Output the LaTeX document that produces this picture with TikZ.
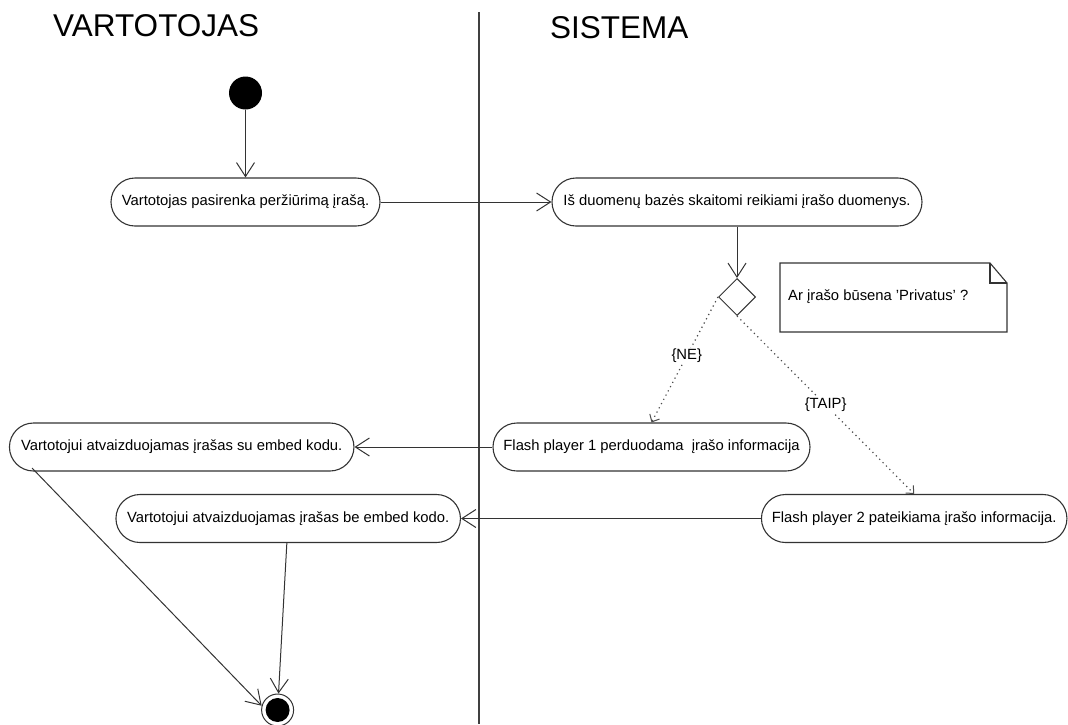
\documentclass[tikz,border=0pt]{standalone}
\usepackage{fontspec}
\setmainfont{Liberation Sans}
\usepackage{tikz}
\usetikzlibrary{arrows.meta, positioning, shapes.geometric, calc}

\tikzset{
  act/.style={draw=black!80, line width=1.1pt, rectangle, rounded corners=24pt,
    minimum height=48pt, inner sep=0pt, font=\fontsize{14.8}{17}\selectfont},
  flow/.style={draw=black!80, line width=1pt, -{Straight Barb[length=14pt,width=18pt]}},
  guard/.style={draw=black!70, line width=1.2pt, dash pattern=on 1.2pt off 3.6pt,
    -{Straight Barb[length=6pt,width=11pt,line width=1pt]}},
  lane/.style={font=\fontsize{31.5}{36}\selectfont, anchor=west, inner sep=0pt},
  lbl/.style={font=\fontsize{14.8}{17}\selectfont, inner sep=0pt}
}

\begin{document}
\begin{tikzpicture}[x=1pt, y=-1pt]
\useasboundingbox (0,0) rectangle (1068,724);

% ---- Swimlanes ----
\node[lane] (vart) at (53,26) {VARTOTOJAS};
\node[lane] (sist) at (550,28) {SISTEMA};
\draw[black!75, line width=1.1pt] (479,12) -- (479,724);

% ---- Start / end ----
\node[circle, fill=black, minimum size=33pt, inner sep=0pt] (start) at (245.5,93) {};
\node[circle, draw=black!80, line width=1pt, fill=white, minimum size=32pt, inner sep=0pt] (fin) at (277.6,710) {};
\fill (fin) circle (12pt);

% ---- Activities ----
\node[act, minimum width=269pt] (pick) at (245.5,202) {Vartotojas pasirenka peržiūrimą įrašą.};
\node[act, minimum width=370pt] (read) at (737,202) {Iš duomenų bazės skaitomi reikiami įrašo duomenys.};
\node[diamond, draw=black!80, line width=1pt, minimum size=37pt, inner sep=0pt] (dec) at (737,297) {};
\node[act, minimum width=317pt] (fpone) at (651.5,447) {Flash player 1 perduodama \ įrašo informacija};
\node[act, minimum width=305.5pt] (fptwo) at (914.2,518.5) {Flash player 2 pateikiama įrašo informacija.};
\node[act, minimum width=344.5pt] (showsu) at (181.7,447) {Vartotojui atvaizduojamas įrašas su embed kodu.};
\node[act, minimum width=344.5pt] (showbe) at (288.2,518.5) {Vartotojui atvaizduojamas įrašas be embed kodo.};

% ---- Note ----
\draw[black!80, line width=1.1pt] (780,263) -- (990,263) -- (1007,283) -- (1007,332) -- (780,332) -- cycle;
\draw[black!80, line width=1.1pt] (990,263) -- (990,283) -- (1007,283);
\node[lbl, anchor=west] (note) at (788,297) {Ar įrašo būsena 'Privatus' ?};

% ---- Flows ----
\draw[flow] (start) -- (pick);
\draw[flow] (pick) -- (read);
\draw[flow] (read) -- (dec);
\draw[guard] (dec.west) -- (fpone.north) node[lbl, pos=0.47, fill=white, inner sep=1pt] {\{NE\}};
\draw[guard] (dec.south) -- (fptwo.north) node[lbl, pos=0.5, fill=white, inner sep=1pt] {\{TAIP\}};
\draw[flow] (fpone) -- (showsu);
\draw[flow] (fptwo) -- (showbe);

\coordinate (suout) at (32,468);
\draw[flow] (suout) -- (fin.165);
\draw[flow] (showbe) -- (fin);

\end{tikzpicture}
\end{document}
